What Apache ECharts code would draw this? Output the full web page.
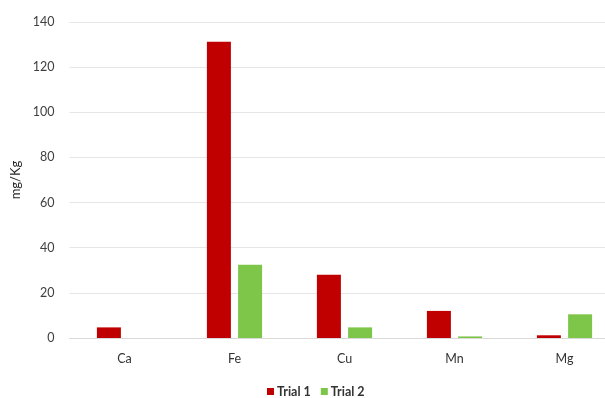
<!DOCTYPE html>
<html>
<head>
<meta charset="utf-8">
<script src="https://cdn.jsdelivr.net/npm/echarts@6/dist/echarts.min.js"></script>
<style>
  html, body { margin: 0; padding: 0; background: #fff; }
  #chart { width: 605px; height: 398px; }
</style>
</head>
<body>
<div id="chart"></div>
<script>
// Mineral content per element, two trials (mg/Kg)
const elements = ['Ca', 'Fe', 'Cu', 'Mn', 'Mg'];
const trial1 = [4.7, 131.2, 28, 12, 1.2];
const trial2 = [0, 32.4, 4.7, 0.7, 10.5];
const yTicks = [0, 20, 40, 60, 80, 100, 120, 140];

const FONT = 'Lato, "Open Sans", sans-serif';
const chart = echarts.init(document.getElementById('chart'), null, { renderer: 'canvas' });

chart.setOption({
  backgroundColor: '#ffffff',
  animation: false,
  textStyle: { fontFamily: FONT },
  // plot area runs past the right edge of the canvas, so the last gridlines are cut off
  grid: { left: 69.5, width: 550, top: 22, bottom: 60, containLabel: false, outerBoundsMode: 'none' },
  legend: {
    top: 380,
    left: 262,
    itemWidth: 7,
    itemHeight: 7,
    itemGap: 10,
    icon: 'rect',
    textStyle: { fontFamily: FONT, fontSize: 12.5, fontWeight: 'bold', color: '#333333', padding: [0, 0, 0, -2] },
    data: ['Trial 1', 'Trial 2']
  },
  xAxis: {
    type: 'category',
    data: elements,
    axisLine: { show: true, lineStyle: { color: '#d9d9d9', width: 1 } },
    axisTick: { show: false },
    axisLabel: { color: '#333333', fontSize: 12.5, fontFamily: FONT, margin: 14 }
  },
  yAxis: {
    type: 'value',
    min: yTicks[0],
    max: yTicks[yTicks.length - 1],
    interval: 20,
    name: 'mg/Kg',
    nameLocation: 'middle',
    nameGap: 31,
    nameRotate: 90,
    nameTextStyle: { color: '#262626', fontSize: 13, fontFamily: FONT },
    axisLine: { show: false },
    axisTick: { show: false },
    axisLabel: { color: '#404040', fontSize: 12.5, fontFamily: FONT, margin: 15 },
    splitLine: { lineStyle: { color: '#e6e6e6', width: 1 } }
  },
  series: [
    {
      name: 'Trial 1',
      type: 'bar',
      data: trial1,
      barWidth: 24,
      barGap: '30%',
      itemStyle: { color: '#c00000' }
    },
    {
      name: 'Trial 2',
      type: 'bar',
      data: trial2,
      barWidth: 24,
      itemStyle: { color: '#7dc64a' }
    }
  ]
});
</script>
</body>
</html>
